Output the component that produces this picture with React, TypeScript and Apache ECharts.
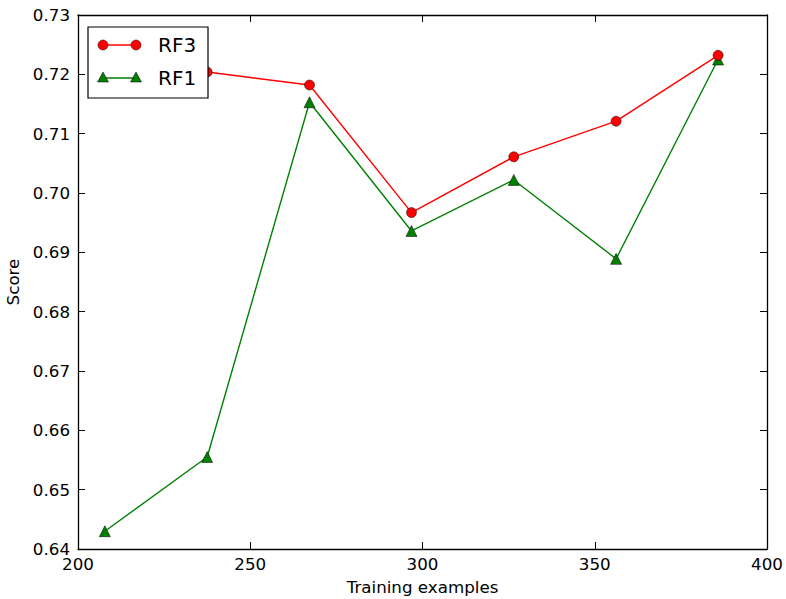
import React, { useEffect, useRef } from "react";
import * as echarts from "echarts";

const trainSizes = [207.8, 237.5, 267.2, 296.8, 326.5, 356.2, 385.8];
const rf3Scores = [0.7215, 0.7204, 0.7182, 0.6967, 0.7061, 0.7121, 0.7232];
const rf1Scores = [0.6430, 0.6555, 0.7153, 0.6936, 0.7022, 0.6889, 0.7225];
const xTicks = [200, 250, 300, 350, 400];
const yTicks = [0.64, 0.65, 0.66, 0.67, 0.68, 0.69, 0.70, 0.71, 0.72, 0.73];

const FONT = "DejaVu Sans";
const RED = "#ff0000";
const GREEN = "#008000";

export default function App() {
  const ref = useRef<HTMLDivElement>(null);
  useEffect(() => {
    if (!ref.current) return;
    const chart = echarts.init(ref.current, undefined, { renderer: "svg" });
    const axisCommon = {
      axisLine: { show: true, lineStyle: { color: "#000", width: 1.3 } },
      axisTick: { show: true, inside: true, length: 7, lineStyle: { color: "#000", width: 1 } },
      splitLine: { show: false },
    };
    const labelStyle = { color: "#000", fontSize: 16.7, fontFamily: FONT };
    const Z = 100;
    chart.setOption({
      animation: false,
      backgroundColor: "#fff",
      grid: { left: 78, right: 19, top: 15, bottom: 50, containLabel: false, outerBoundsMode: "none" },
      xAxis: [
        {
          type: "value",
          min: xTicks[0],
          max: xTicks[xTicks.length - 1],
          interval: 50,
          position: "bottom",
          ...axisCommon,
          axisLabel: { ...labelStyle, margin: 6 },
          name: "Training examples",
          nameLocation: "middle",
          nameGap: 29,
          nameTextStyle: { ...labelStyle },
        },
        {
          type: "value",
          min: xTicks[0],
          max: xTicks[xTicks.length - 1],
          interval: 50,
          position: "top",
          ...axisCommon,
          axisLabel: { show: false },
        },
      ],
      yAxis: [
        {
          type: "value",
          min: yTicks[0],
          max: yTicks[yTicks.length - 1],
          interval: 0.01,
          position: "left",
          ...axisCommon,
          axisLabel: { ...labelStyle, margin: 8, formatter: (v: number) => v.toFixed(2) },
          name: "Score",
          nameLocation: "middle",
          nameGap: 56,
          nameTextStyle: { ...labelStyle },
        },
        {
          type: "value",
          min: yTicks[0],
          max: yTicks[yTicks.length - 1],
          interval: 0.01,
          position: "right",
          ...axisCommon,
          axisLabel: { show: false },
        },
      ],
      series: [
        {
          name: "RF3",
          type: "line",
          data: trainSizes.map((x, i) => [x, rf3Scores[i]]),
          symbol: "circle",
          symbolSize: 10,
          lineStyle: { color: RED, width: 1.4 },
          itemStyle: { color: RED, borderColor: "#000", borderWidth: 0.5 },
          z: 3,
        },
        {
          name: "RF1",
          type: "line",
          data: trainSizes.map((x, i) => [x, rf1Scores[i]]),
          symbol: "triangle",
          symbolSize: 11,
          lineStyle: { color: GREEN, width: 1.4 },
          itemStyle: { color: GREEN, borderColor: "#000", borderWidth: 0.5 },
          z: 2,
        },
      ],
      graphic: {
        elements: [
          {
            type: "rect",
            z: Z,
            shape: { x: 88, y: 27, width: 120, height: 71 },
            style: { fill: "#fff", stroke: "#000", lineWidth: 1.2 },
          },
          { type: "line", z: Z + 1, shape: { x1: 103, y1: 45, x2: 136, y2: 45 }, style: { stroke: RED, lineWidth: 1.4 } },
          { type: "circle", z: Z + 2, shape: { cx: 103, cy: 45, r: 5 }, style: { fill: RED, stroke: "#000", lineWidth: 0.5 } },
          { type: "circle", z: Z + 2, shape: { cx: 136, cy: 45, r: 5 }, style: { fill: RED, stroke: "#000", lineWidth: 0.5 } },
          {
            type: "text",
            z: Z + 2,
            x: 158,
            y: 45,
            style: { text: "RF3", fill: "#000", fontSize: 20, fontFamily: FONT, verticalAlign: "middle" },
          },
          { type: "line", z: Z + 1, shape: { x1: 103, y1: 78, x2: 136, y2: 78 }, style: { stroke: GREEN, lineWidth: 1.4 } },
          {
            type: "polygon",
            z: Z + 2,
            shape: { points: [[103, 72], [97.5, 82], [108.5, 82]] },
            style: { fill: GREEN, stroke: "#000", lineWidth: 0.5 },
          },
          {
            type: "polygon",
            z: Z + 2,
            shape: { points: [[136, 72], [130.5, 82], [141.5, 82]] },
            style: { fill: GREEN, stroke: "#000", lineWidth: 0.5 },
          },
          {
            type: "text",
            z: Z + 2,
            x: 158,
            y: 78,
            style: { text: "RF1", fill: "#000", fontSize: 20, fontFamily: FONT, verticalAlign: "middle" },
          },
        ],
      },
    });
    return () => chart.dispose();
  }, []);
  return <div ref={ref} style={{ width: 786, height: 599, position: "absolute", left: 0, top: 0 }} />;
}
